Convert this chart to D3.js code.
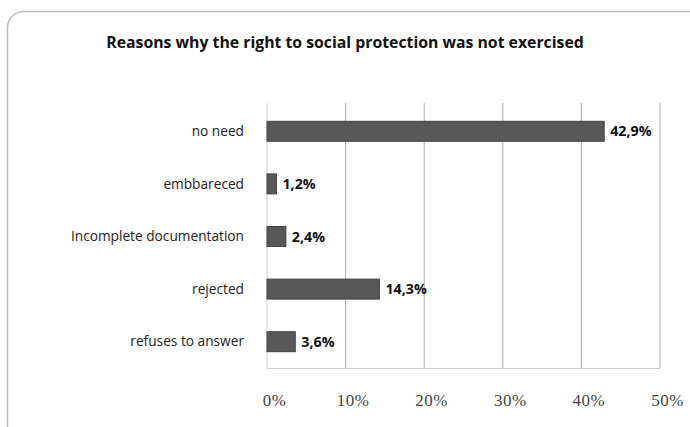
<!DOCTYPE html>
<html><head><meta charset="utf-8">
<script src="https://cdn.jsdelivr.net/npm/d3@7"></script>
<style>
html,body{margin:0;padding:0;background:#fff;}
svg{display:block;}
</style></head>
<body><svg id="c" width="690" height="427"></svg>
<script>
const title = "Reasons why the right to social protection was not exercised";
const categories = ["no need", "embbareced", "Incomplete documentation", "rejected", "refuses to answer"];
const values = [42.9, 1.2, 2.4, 14.3, 3.6];
const valueLabels = ["42,9%", "1,2%", "2,4%", "14,3%", "3,6%"];
const tickValues = [0, 10, 20, 30, 40, 50];
const tickLabels = ["0%", "10%", "20%", "30%", "40%", "50%"];

const svg = d3.select("#c");
const W = 690, H = 427;
const m = {left: 267, right: 30, top: 105, bottom: 59};

// frame
svg.append("rect").attr("x", 7.5).attr("y", 11.5).attr("width", 720).attr("height", 440)
  .attr("rx", 16).attr("ry", 16).attr("fill", "#fff").attr("stroke", "#bcbcbc").attr("stroke-width", 1.5);

svg.append("text").attr("x", 345).attr("y", 48).attr("text-anchor", "middle")
  .attr("font-family", "'Open Sans', sans-serif").attr("font-weight", "bold").attr("font-size", 15.8)
  .attr("fill", "#111").text(title);

const x = d3.scaleLinear().domain([0, 50]).range([m.left, 660]);
const y = d3.scaleBand().domain(categories).range([m.top, H - m.bottom]).paddingInner(0.62).paddingOuter(0.31);

// gridlines
const g = svg.append("g");
g.selectAll("line.grid").data(tickValues).join("line").attr("class", "grid")
  .attr("x1", d => x(d)).attr("x2", d => x(d)).attr("y1", m.top - 2).attr("y2", H - m.bottom)
  .attr("stroke", d => d === 0 ? "#d0d0d0" : "#a8a8a8").attr("stroke-width", 1);
g.append("line").attr("x1", x(0)).attr("x2", x(50)).attr("y1", H - m.bottom + 0.5).attr("y2", H - m.bottom + 0.5)
  .attr("stroke", "#cfcfcf");

// x axis labels
const xAxis = d3.axisBottom(x).tickValues(tickValues).tickFormat((d, i) => tickLabels[i]).tickSize(0).tickPadding(0);
const ax = svg.append("g").attr("transform", `translate(7, ${H - m.bottom + 38})`).call(xAxis);
ax.select(".domain").remove();
ax.selectAll("text").attr("font-family", "'Liberation Serif', serif").attr("font-size", 17)
  .attr("fill", "#444").attr("dy", 0).attr("letter-spacing", "0.5px");

// y axis labels
const yAxis = d3.axisLeft(y).tickSize(0).tickPadding(0);
const ay = svg.append("g").attr("transform", `translate(244, 0)`).call(yAxis);
ay.select(".domain").remove();
ay.selectAll("text").attr("font-family", "'Open Sans', sans-serif").attr("font-size", 13.7)
  .attr("fill", "#222").attr("dy", "0.35em");

// bars
svg.selectAll("rect.bar").data(values).join("rect").attr("class", "bar")
  .attr("x", x(0)).attr("y", (d, i) => y(categories[i]))
  .attr("width", d => x(d) - x(0)).attr("height", y.bandwidth())
  .attr("fill", "#585858").attr("stroke", "#444").attr("stroke-width", 1);

svg.selectAll("text.val").data(values).join("text").attr("class", "val")
  .attr("x", d => x(d) + 6).attr("y", (d, i) => y(categories[i]) + y.bandwidth() / 2)
  .attr("dy", "0.36em").attr("font-family", "'Open Sans', sans-serif").attr("font-weight", "bold")
  .attr("font-size", 14.3).attr("fill", "#111").text((d, i) => valueLabels[i]);
</script></body></html>
